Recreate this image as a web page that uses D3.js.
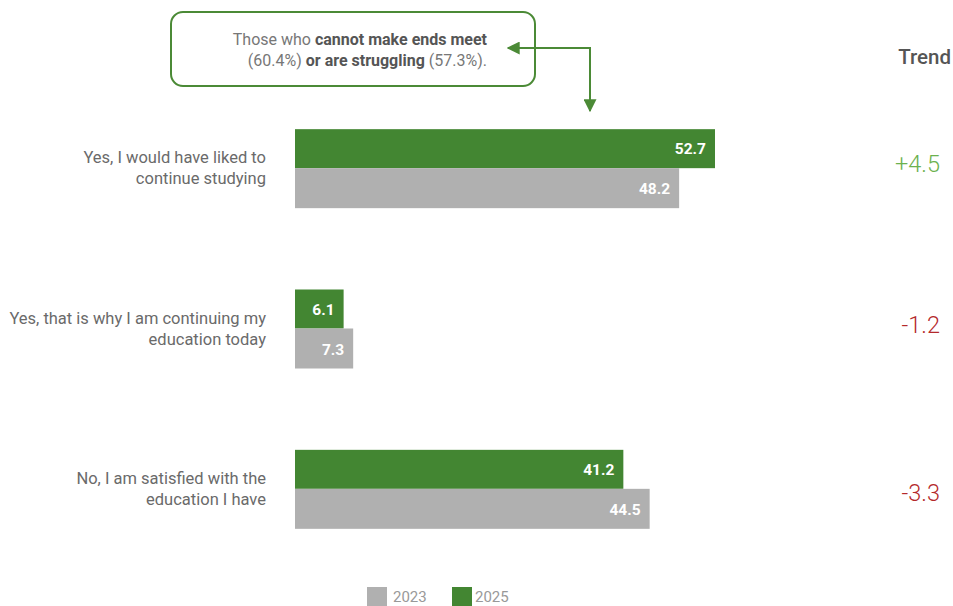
<!DOCTYPE html>
<html>
<head>
<meta charset="utf-8">
<script src="https://cdn.jsdelivr.net/npm/d3@7"></script>
<style>
  html, body { margin: 0; padding: 0; background: #fff; }
  svg { display: block; font-family: Roboto, "DejaVu Sans", sans-serif; }
</style>
</head>
<body>
<svg id="chart" width="953" height="606"></svg>
<script>
// Survey answers, each split over two lines
const categories = [
  ["Yes, I would have liked to", "continue studying"],
  ["Yes, that is why I am continuing my", "education today"],
  ["No, I am satisfied with the", "education I have"]
];
const values2025 = [52.7, 6.1, 41.2];
const values2023 = [48.2, 7.3, 44.5];
const trend = ["+4.5", "-1.2", "-3.3"];
const years = ["2023", "2025"];

const green = "#438632";
const grey = "#b0b0b0";
const trendUp = "#6cb14e";
const trendDown = "#b4292b";
const annot = "#4b8a36";

const svg = d3.select("#chart");

const x = d3.scaleLinear().domain([0, 52.7]).range([295, 715]);
const y = d3.scaleBand().domain(d3.range(categories.length)).range([88, 569]).paddingInner(0.5).paddingOuter(0.25);
const barH = 40;

const groups = svg.selectAll("g.row")
  .data(categories.map((c, i) => ({ c, i, v25: values2025[i], v23: values2023[i], t: trend[i] })))
  .join("g")
  .attr("class", "row")
  .attr("transform", d => `translate(0,${y(d.i) + y.bandwidth() / 2})`);

// 2025 bar on top, 2023 underneath
groups.append("rect")
  .attr("x", x(0)).attr("y", -barH + 1)
  .attr("width", d => x(d.v25) - x(0)).attr("height", barH - 1)
  .attr("fill", green);
groups.append("rect")
  .attr("x", x(0)).attr("y", 0)
  .attr("width", d => x(d.v23) - x(0)).attr("height", barH)
  .attr("fill", grey);

groups.append("text")
  .attr("x", d => x(d.v25) - 9).attr("y", -barH / 2 + 6)
  .attr("text-anchor", "end").attr("fill", "#fff")
  .attr("font-size", 15.5).attr("font-weight", 700)
  .text(d => d.v25.toFixed(1));
groups.append("text")
  .attr("x", d => x(d.v23) - 9).attr("y", barH / 2 + 6)
  .attr("text-anchor", "end").attr("fill", "#fff")
  .attr("font-size", 15.5).attr("font-weight", 700)
  .text(d => d.v23.toFixed(1));

// Category labels
groups.append("text")
  .attr("text-anchor", "end").attr("fill", "#6a6a6a").attr("font-size", 16.5)
  .selectAll("tspan")
  .data(d => d.c)
  .join("tspan")
  .attr("x", 266)
  .attr("y", (d, j) => -5 + j * 21)
  .text(d => d);

// Trend values
groups.append("text")
  .attr("x", 940).attr("y", (d, i) => 4 + (i === 2 ? 8 : 0))
  .attr("text-anchor", "end").attr("font-size", 23.5).attr("font-weight", 300)
  .attr("fill", d => d.t.startsWith("+") ? trendUp : trendDown)
  .text(d => d.t);

svg.append("text")
  .attr("x", 951).attr("y", 64)
  .attr("text-anchor", "end").attr("font-size", 20.5).attr("font-weight", 500)
  .attr("fill", "#555").text("Trend");

// Annotation callout
svg.append("rect")
  .attr("x", 171).attr("y", 12).attr("width", 364).attr("height", 74)
  .attr("rx", 12).attr("fill", "none").attr("stroke", annot).attr("stroke-width", 2);

const note = svg.append("text").attr("text-anchor", "end").attr("font-size", 16).attr("fill", "#777");
const l1 = note.append("tspan").attr("x", 487).attr("y", 45);
l1.append("tspan").text("Those who ");
l1.append("tspan").attr("font-weight", 700).attr("fill", "#555").text("cannot make ends meet");
const l2 = note.append("tspan").attr("x", 487).attr("y", 66);
l2.append("tspan").text("(60.4%) ");
l2.append("tspan").attr("font-weight", 700).attr("fill", "#555").text("or are struggling");
l2.append("tspan").text(" (57.3%).");

const defs = svg.append("defs");
defs.append("marker").attr("id", "head")
  .attr("viewBox", "0 0 10 10").attr("refX", 9).attr("refY", 5)
  .attr("markerWidth", 6.5).attr("markerHeight", 6.5).attr("orient", "auto")
  .append("path").attr("d", "M0,0 L10,5 L0,10 Z").attr("fill", annot);

svg.append("path")
  .attr("d", "M590,48 L508,48")
  .attr("stroke", annot).attr("stroke-width", 2).attr("fill", "none")
  .attr("marker-end", "url(#head)");
svg.append("path")
  .attr("d", "M590,47 L590,111")
  .attr("stroke", annot).attr("stroke-width", 2).attr("fill", "none")
  .attr("marker-end", "url(#head)");

// Legend
const legend = svg.append("g").selectAll("g")
  .data(years).join("g")
  .attr("transform", (d, i) => `translate(${367 + i * 85},587)`);
legend.append("rect").attr("width", 20).attr("height", 19)
  .attr("fill", (d, i) => i === 0 ? grey : green);
legend.append("text").attr("x", (d, i) => i === 0 ? 26 : 23).attr("y", 15)
  .attr("font-size", 15).attr("fill", "#999").text(d => d);
</script>
</body>
</html>
